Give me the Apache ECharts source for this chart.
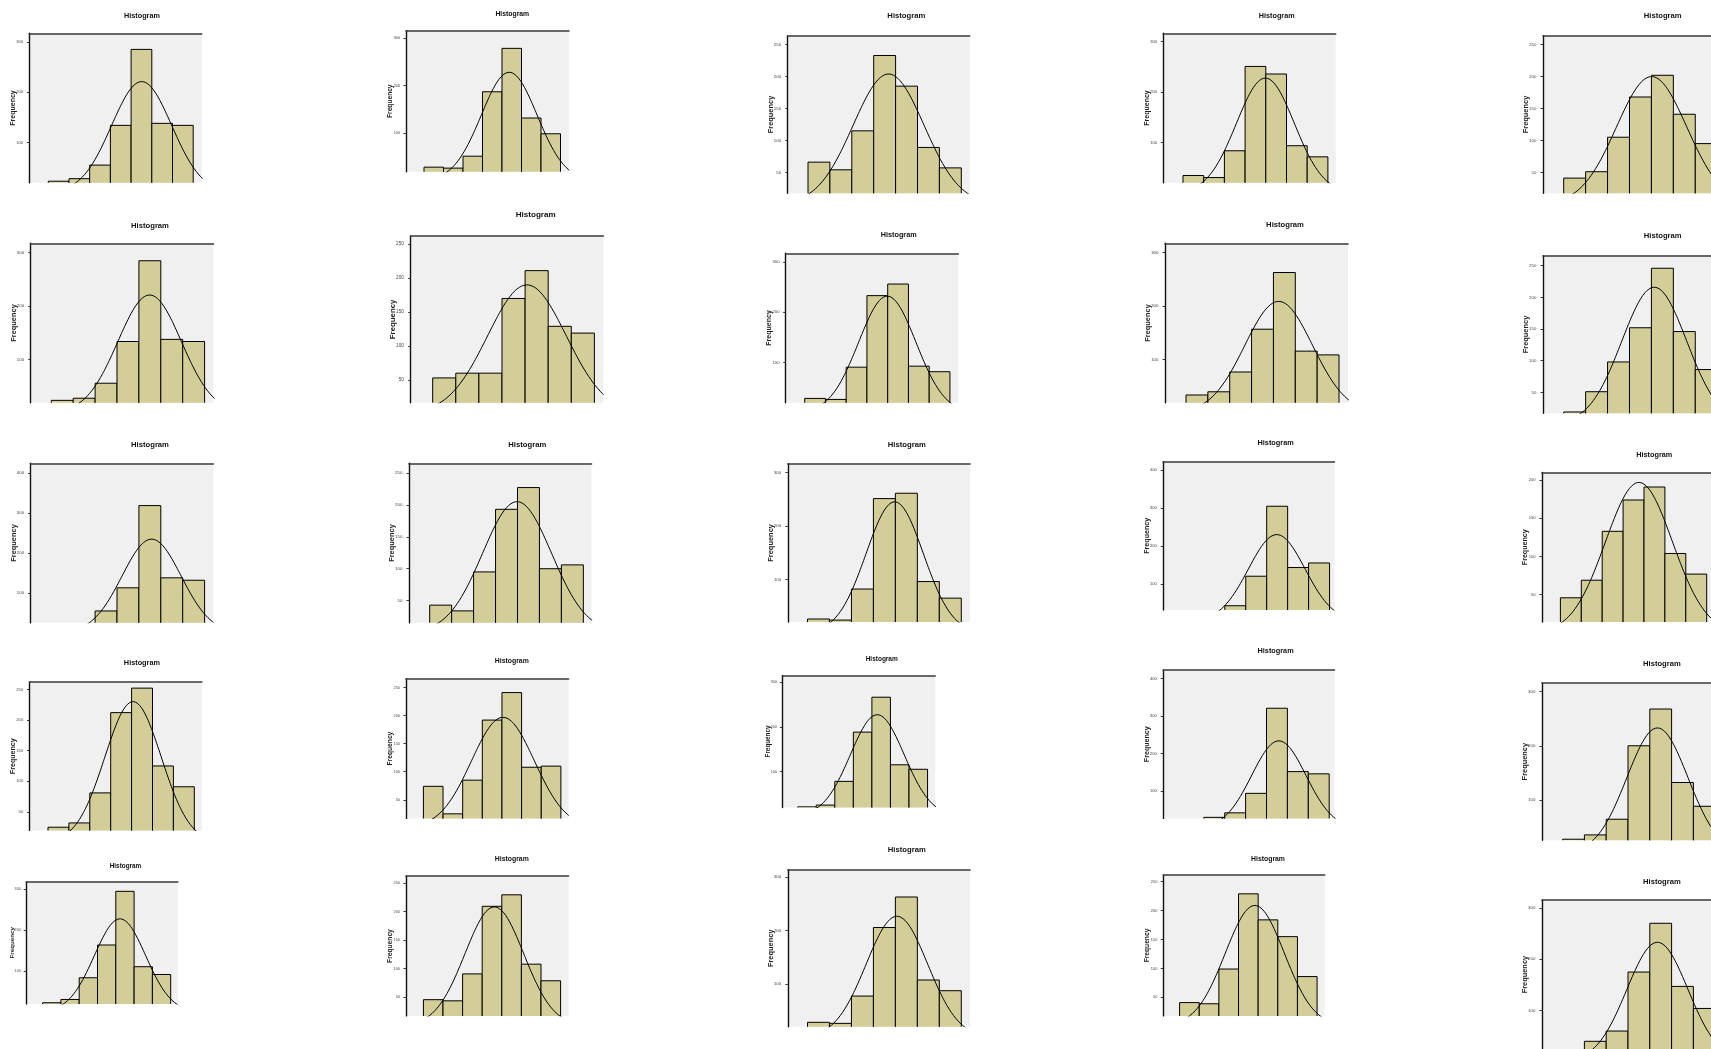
<!DOCTYPE html>
<html><head><meta charset="utf-8">
<script src="https://cdn.jsdelivr.net/npm/echarts@6/dist/echarts.min.js"></script>
<style>html,body{margin:0;padding:0;background:#fff}#c{width:1711px;height:1049px}</style>
</head><body><div id="c"></div>
<script>
// ---------- DATA ----------
const titleText = 'Histogram';
const yName = 'Frequency';
const binCounts = [
  [23,28,55,134,285,138,134],
  [29,27,52,187,278,132,99],
  [66,54,115,233,185,89,57],
  [35,31,84,251,236,94,72],
  [41,51,105,168,202,141,95],
  [24,28,56,134,285,138,134],
  [53,60,60,170,211,129,119],
  [29,27,91,233,256,93,82],
  [34,40,77,157,263,116,109],
  [19,51,98,152,246,146,86],
  [18,22,55,113,319,138,132],
  [43,34,95,193,227,100,106],
  [26,24,82,251,261,96,65],
  [18,24,42,120,305,143,155],
  [46,69,133,174,191,104,77],
  [25,32,81,212,252,125,91],
  [74,25,85,192,241,108,110],
  [21,25,78,188,266,115,105],
  [20,30,42,94,321,152,146],
  [27,35,64,200,268,132,88],
  [23,31,84,164,295,111,92],
  [46,44,91,209,229,108,79],
  [29,27,78,206,263,108,88],
  [41,39,99,229,184,155,86],
  [20,40,60,175,270,147,104]
];
const yMin = [20,19.5,17.2,20.8,17.2, 19.6,16.5,20.5,19.6,16.9, 25.6,15.5,20.4,30.7,14.3, 19.8,16.9,19.6,27.2,25.2, 20.2,17.7,20.6,18,25];
const yMax = [317,315,264,316.6,264, 317.6,262,317,317.6,265.8, 425,265,316,423,210, 262,265.7,314.5,423,316, 318.5,261.5,314,261.4,315];
const ticks3 = [100,200,300];
const ticks4 = [100,200,300,400];
const ticks50 = [50,100,150,200,250];
const ticks50s = [50,100,150,200];
const yTicks = [
  ticks3,ticks3,ticks50,ticks3,ticks50,
  ticks3,ticks50,ticks3,ticks3,ticks50,
  ticks4,ticks50,ticks3,ticks4,ticks50s,
  ticks50,ticks50,ticks3,ticks4,ticks3,
  ticks3,ticks50,ticks3,ticks50,ticks3
];
// normal curve (mean and sd in bin units, peak in counts)
const curveMean = [4.51,4.37,3.68,3.98,4.01, 4.49,4.08,3.98,4.24,4.13, 4.58,3.98,3.97,4.48,3.76, 4.07,4.05,4.29,4.59,4.35, 4.23,3.62,4.07,3.83,4.35];
const curveSD   = [1.45,1.43,1.62,1.40,1.60, 1.45,1.70,1.38,1.55,1.48, 1.35,1.57,1.30,1.35,1.60, 1.35,1.60,1.45,1.30,1.40, 1.40,1.50,1.40,1.50,1.40];
const curvePeak = [221,228,204,228,200, 221,190,232,209,216, 235,205,245,230,197, 230,197,227,234,233, 228,208,227,209,233];

// ---------- LAYOUT (px): plot left, top, right, bottom, first bin edge, bin width ----------
const box = [
  [29.3,33.3,201.7,182.7,48.3,20.7],
  [406,30.7,569,171.7,424,19.5],
  [787.7,35.7,969.7,193.3,808,21.9],
  [1163.3,33.3,1335.7,182.7,1183,20.7],
  [1543,35.7,1730,193.3,1563.7,21.93],
  [30.7,243.3,213.5,402.7,51.3,21.9],
  [410.7,236,603.3,402.7,432.7,23.1],
  [785.7,253.3,958.3,402.7,804.7,20.75],
  [1165,243.3,1348,402.7,1186,21.86],
  [1543,255.7,1730,413.3,1563.7,21.93],
  [30.7,463.3,213.3,622.7,51.3,21.9],
  [409,463.3,591.5,622.7,429.7,21.95],
  [787.8,463.8,970,622,807.5,21.97],
  [1163.2,461.6,1334.5,610,1182.9,20.95],
  [1541.9,472.5,1730,622,1560.4,20.9],
  [29.5,682,201.9,830.4,48,20.9],
  [405.9,678.7,568.5,818.4,423.4,19.64],
  [782.4,675.5,935.2,807.5,797.7,18.55],
  [1163.2,670,1334.5,818.4,1182.9,20.9],
  [1541.9,683.1,1730,840.2,1562.6,21.8],
  [26.2,881.7,177.9,1003.9,42.6,18.3],
  [405.9,876.2,568.5,1015.9,423.4,19.6],
  [787.8,869.7,970,1026.8,807.5,21.97],
  [1163.2,875.1,1324.7,1015.9,1179.6,19.64],
  [1541.9,900.2,1730,1049,1562.6,21.8]
];
const titleAt = [
  [142,15.7],[512.3,14],[906.3,16],[1276.7,15.7],[1662.7,16],
  [150,225.7],[535.7,215],[898.7,235.3],[1285,225.3],[1662.7,236],
  [150,445.3],[527.3,445],[906.8,445.2],[1275.6,443],[1654.3,455],
  [141.9,663.4],[511.8,661.3],[881.7,659.1],[1275.6,651.4],[1661.9,663.4],
  [125.5,866.4],[511.8,858.8],[906.8,850],[1268,858.8],[1661.9,881.7]
];

const FONT = '"Liberation Sans", Arial, sans-serif';
const BAR_FILL = '#d3ce97';

const grid = [], xAxis = [], yAxis = [], series = [], graphic = [];
binCounts.forEach((counts, k) => {
  const [L,T,R,B,e0,bw] = box[k];
  const xMin = (L - e0) / bw, xMax = (R - e0) / bw;
  grid.push({left: L, top: T, width: R - L, height: B - T, show: true,
    backgroundColor: '#f0f0f0', borderWidth: 0, containLabel: false, outerBoundsMode: 'none'});
  xAxis.push({gridIndex: k, type: 'value', min: xMin, max: xMax, position: 'top',
    axisLine: {show: true, onZero: false, lineStyle: {color: '#3a3a3a', width: 1.6}},
    axisTick: {show: false}, axisLabel: {show: false}, splitLine: {show: false}});
  yAxis.push({gridIndex: k, type: 'value', min: yMin[k], max: yMax[k], position: 'left',
    axisLine: {show: true, onZero: false, lineStyle: {color: '#111', width: 1.4}},
    axisTick: {show: true, length: 2.5, customValues: yTicks[k], lineStyle: {color: '#222', width: 0.9}},
    axisLabel: {show: true, customValues: yTicks[k], fontSize: 0.2 * bw, color: '#444', margin: 0.3 * bw, fontFamily: FONT},
    splitLine: {show: false},
    name: yName, nameLocation: 'middle', nameGap: 0.62 * bw, nameMoveOverlap: false,
    nameTextStyle: {fontSize: 0.34 * bw, fontWeight: 'bold', color: '#222', fontFamily: FONT}});
  const lo = yMin[k] - (yMax[k] - yMin[k]);
  series.push({type: 'custom', xAxisIndex: k, yAxisIndex: k, clip: true, z: 2,
    data: counts.map((v, i) => [i, v]),
    renderItem: (params, api) => {
      const i = api.value(0), v = api.value(1);
      const p0 = api.coord([i, v]);
      const p1 = api.coord([i + 1, lo]);
      return {type: 'rect', shape: {x: p0[0], y: p0[1], width: p1[0] - p0[0], height: p1[1] - p0[1]},
        style: {fill: BAR_FILL, stroke: '#000', lineWidth: 1}};
    }});
  const pts = [];
  for (let x = Math.floor(xMin * 20) / 20; x <= xMax + 0.05; x += 0.05) {
    const z = (x - curveMean[k]) / curveSD[k];
    pts.push([x, curvePeak[k] * Math.exp(-0.5 * z * z)]);
  }
  series.push({type: 'line', xAxisIndex: k, yAxisIndex: k, data: pts, showSymbol: false, symbol: 'none',
    clip: true, z: 3, silent: true, lineStyle: {color: '#000', width: 1}});
  graphic.push({type: 'text', x: titleAt[k][0], y: titleAt[k][1],
    style: {text: titleText, fontSize: 0.35 * bw, fontWeight: 'bold', fill: '#111', fontFamily: FONT,
      align: 'center', verticalAlign: 'middle', textAlign: 'center', textVerticalAlign: 'middle'}});
});

const chart = echarts.init(document.getElementById('c'), null, {renderer: 'canvas'});
chart.setOption({animation: false, backgroundColor: '#fff', grid, xAxis, yAxis, series, graphic});
</script></body></html>
